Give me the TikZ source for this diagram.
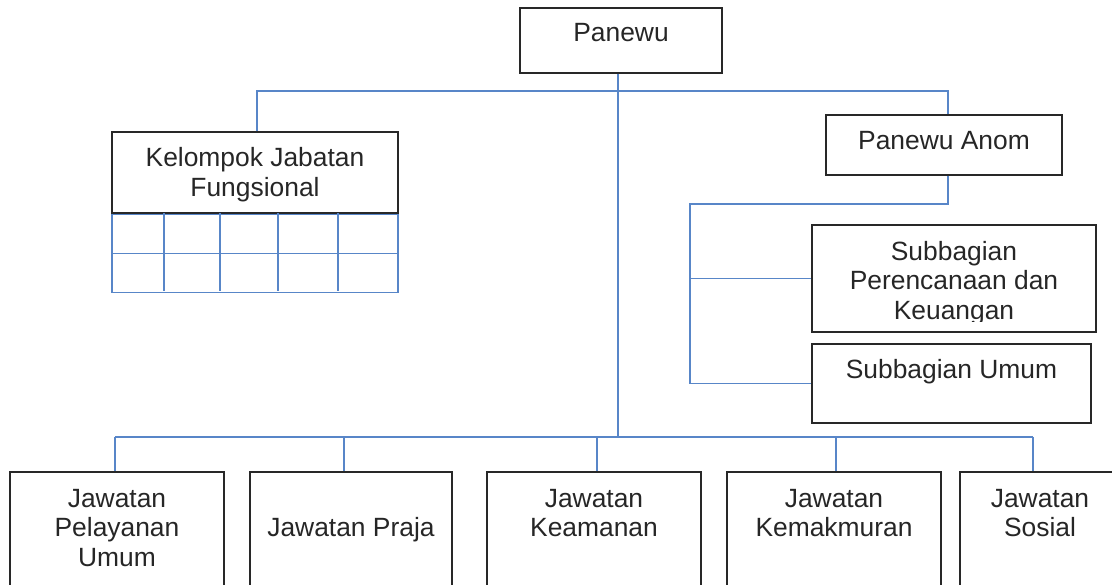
\documentclass[tikz,border=0pt]{standalone}
\usepackage{fontspec}
\setmainfont{Liberation Sans}
\usetikzlibrary{
  calc,
  positioning,
}
\definecolor{linkblue}{RGB}{88,134,200}
\definecolor{boxline}{RGB}{40,40,40}
\tikzstyle{box} = [
  rectangle,
  draw=boxline,
  line width=1.3pt,
  inner sep=0pt,
]
\tikzstyle{lbl} = [
  align=center,
  inner sep=0pt,
  text=black!85,
  font=\fontsize{26.4}{29.8}\selectfont,
]
\tikzstyle{conn} = [
  line width=1.4pt,
  color=linkblue,
]

\begin{document}
\begin{tikzpicture}[x=1pt,y=-1pt]
			\useasboundingbox (0,0) rectangle (1112,585);

			\node[box,minimum width=202,minimum height=65] (panewu) at (621,40.5) {};
			\node[lbl] (panewu-t) at (621,33) {Panewu};

			\node[box,minimum width=286,minimum height=81] (kjf) at (255,172.5) {};
			\node[lbl] (kjf-t) at (255,175) {Kelompok Jabatan\\Fungsional};
			\node[rectangle,draw=linkblue,line width=1.4pt,minimum width=286,minimum height=78,inner sep=0pt,anchor=north] (kjfgrid) at (kjf.south) {};
			\foreach \gx in {164,220,278,338}
				\draw[conn] (\gx,213) -- (\gx,291);
			\draw[conn] (kjfgrid.west) -- (kjfgrid.east);

			\node[box,minimum width=236,minimum height=60] (anom) at (944,145) {};
			\node[lbl] (anom-t) at (944,141) {Panewu Anom};

			\node[box,minimum width=284,minimum height=107] (subpk) at (954,278.5) {};
			\begin{scope}
				\clip ([yshift=11pt]subpk.south west) rectangle (subpk.north east);
				\node[lbl] (subpk-t) at (954,283) {Subbagian\\Perencanaan dan\\Keuangan};
			\end{scope}

			\node[box,minimum width=279,minimum height=79] (subum) at (951.5,383.5) {};
			\node[lbl] (subum-t) at (951.5,372) {Subbagian Umum};

			\node[box,minimum width=214,minimum height=130] (jw1) at (117,537) {};
			\node[lbl] (jw1-t) at (117,528) {Jawatan\\Pelayanan\\Umum};
			\node[box,minimum width=202,minimum height=130] (jw2) at (351,537) {};
			\node[lbl] (jw2-t) at (351,530) {Jawatan Praja};
			\node[box,minimum width=214,minimum height=130] (jw3) at (594,537) {};
			\node[lbl] (jw3-t) at (594,513) {Jawatan\\Keamanan};
			\node[box,minimum width=214,minimum height=130] (jw4) at (834,537) {};
			\node[lbl] (jw4-t) at (834,513) {Jawatan\\Kemakmuran};
			\node[box,minimum width=165,minimum height=130] (jw5) at (1042.5,537) {};
			\node[lbl] (jw5-t) at (1040,513) {Jawatan\\Sosial};

			\coordinate (topl) at (257,91);
			\coordinate (topr) at (948,91);
			\coordinate (spine) at (618,437);
			\coordinate (stem) at (948,204);
			\coordinate (side) at (690,204);
			\foreach \j/\dx in {1/115,2/344,3/597,4/836,5/1033}
				\coordinate (d\j) at (\dx,437);

			\draw[conn] (panewu.south -| spine) -- (spine);
			\draw[conn] (kjf.north -| topl) -- (topl) -- (topr) -- (anom.north -| topr);
			\draw[conn] (anom.south -| stem) -- (stem) -- (side) |- (subum.west);
			\draw[conn] (side |- subpk.west) -- (subpk.west);
			\draw[conn] (d1) -- (d5);
			\foreach \j in {1,...,5}
				\draw[conn] (d\j) -- (jw\j.north -| d\j);
		\end{tikzpicture}
\end{document}
